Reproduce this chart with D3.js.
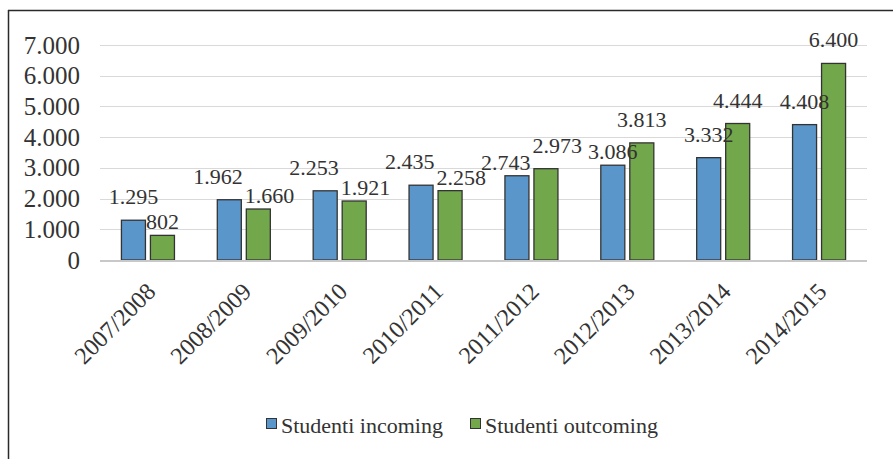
<!DOCTYPE html>
<html>
<head>
<meta charset="utf-8">
<script src="https://cdn.jsdelivr.net/npm/d3@7"></script>
</head>
<body style="margin:0;padding:0;background:#fff">
<svg id="chart" width="893" height="459" style="display:block"></svg>
<script>
const categories = ["2007/2008", "2008/2009", "2009/2010", "2010/2011", "2011/2012", "2012/2013", "2013/2014", "2014/2015"];
const seriesNames = ["Studenti incoming", "Studenti outcoming"];
const incoming = [1295, 1962, 2253, 2435, 2743, 3086, 3332, 4408];
const outcoming = [802, 1660, 1921, 2258, 2973, 3813, 4444, 6400];
const yTicks = [0, 1000, 2000, 3000, 4000, 5000, 6000, 7000];
const colors = ["#5b96cb", "#72a84b"];

const FONT = "Liberation Serif";
const TXT = "#333333";

const seriesValues = [incoming, outcoming];
const data = categories.map((c, i) => ({
  cat: c,
  values: seriesNames.map((s, j) => ({ series: s, idx: j, value: seriesValues[j][i] }))
}));

const svg = d3.select("#chart");
const W = 893, H = 459;
const plot = { left: 100, right: 867, top: 45, bottom: 260 };

const locale = d3.formatLocale({ decimal: ",", thousands: ".", grouping: [3], currency: ["€", ""] });
const fmt = locale.format(",d");

function serif(sel, size) {
  return sel.attr("font-family", FONT).style("font-family", '"Liberation Serif", "Times New Roman", serif')
    .attr("font-size", size).attr("fill", TXT);
}

// Frame
svg.append("line").attr("x1", 8).attr("x2", W).attr("y1", 10.5).attr("y2", 10.5)
  .attr("stroke", "#2a2a2a").attr("stroke-width", 1.5);
svg.append("line").attr("x1", 8.5).attr("x2", 8.5).attr("y1", 10).attr("y2", H)
  .attr("stroke", "#2a2a2a").attr("stroke-width", 1.5);

const y = d3.scaleLinear().domain([0, 7000]).range([plot.bottom, plot.top]);
const x0 = d3.scaleBand().domain(categories).range([plot.left, plot.right])
  .paddingInner(0.447).paddingOuter(0.2235);
const x1 = d3.scaleBand().domain(seriesNames).range([0, x0.bandwidth()]).paddingInner(0.172);

// Gridlines
svg.append("g").selectAll("line").data(yTicks.filter(t => t > 0)).join("line")
  .attr("x1", plot.left).attr("x2", plot.right)
  .attr("y1", d => Math.round(y(d)) + 0.5).attr("y2", d => Math.round(y(d)) + 0.5)
  .attr("stroke", "#d9d9d9").attr("stroke-width", 1);

// Y axis labels
const yAxis = d3.axisLeft(y).tickValues(yTicks).tickFormat(d => fmt(d)).tickSize(0).tickPadding(0);
const yg = svg.append("g").attr("transform", `translate(80,0)`).call(yAxis);
serif(yg, 25);
yg.select(".domain").remove();
serif(yg.selectAll("text"), 25).attr("dy", "0.32em");

// Bars
const groups = svg.append("g").selectAll("g").data(data).join("g")
  .attr("transform", d => `translate(${x0(d.cat)},0)`);
groups.selectAll("rect").data(d => d.values).join("rect")
  .attr("x", d => x1(d.series))
  .attr("y", d => y(d.value))
  .attr("width", x1.bandwidth())
  .attr("height", d => y(0) - y(d.value))
  .attr("fill", d => colors[d.idx])
  .attr("stroke", "#333").attr("stroke-width", 1.3);

// Baseline
svg.append("line").attr("x1", plot.left).attr("x2", plot.right)
  .attr("y1", plot.bottom + 1).attr("y2", plot.bottom + 1)
  .attr("stroke", "#c8c8c8").attr("stroke-width", 2);

// Data labels (above bar, nudged apart when they collide)
groups.each(function(d) {
  const g = d3.select(this);
  const labels = serif(g.selectAll("text.lbl").data(d.values).join("text"), 22)
    .attr("class", "lbl")
    .attr("x", v => x1(v.series) + x1.bandwidth() / 2)
    .attr("y", v => y(v.value) - 16)
    .attr("text-anchor", "middle")
    .text(v => fmt(v.value));
  const nodes = labels.nodes();
  const overlap = (a, b) => {
    const A = a.getBBox(), B = b.getBBox();
    const ox = Math.min(A.x + A.width, B.x + B.width) - Math.max(A.x, B.x);
    const oy = Math.min(A.y + A.height, B.y + B.height) - Math.max(A.y, B.y);
    return ox > 0 && oy > 0 ? ox : 0;
  };
  if (overlap(nodes[0], nodes[1]) > 0) {
    const lowIdx = d.values[0].value < d.values[1].value ? 0 : 1;
    d3.select(nodes[lowIdx]).attr("y", y(d.values[lowIdx].value) - 6);
    const ox = overlap(nodes[0], nodes[1]);
    if (ox > 0) {
      const s = ox / 2 + 1;
      d3.select(nodes[0]).attr("x", +d3.select(nodes[0]).attr("x") - s);
      d3.select(nodes[1]).attr("x", +d3.select(nodes[1]).attr("x") + s);
    }
  }
});

// X axis labels
const xAxis = d3.axisBottom(x0).tickSize(0).tickPadding(0);
const xg = svg.append("g").attr("transform", `translate(0,${plot.bottom})`).call(xAxis);
serif(xg, 24);
xg.select(".domain").remove();
serif(xg.selectAll(".tick text"), 24)
  .attr("text-anchor", "end")
  .attr("x", 0).attr("y", 0).attr("dy", 0)
  .attr("transform", "translate(9,33) rotate(-45)");

// Legend
const legendItems = [
  { name: seriesNames[0], color: colors[0], x: 266 },
  { name: seriesNames[1], color: colors[1], x: 470 }
];
const lg = svg.append("g").selectAll("g").data(legendItems).join("g")
  .attr("transform", d => `translate(${d.x},418)`);
lg.append("rect").attr("x", 0.5).attr("y", 0.5).attr("width", 10).attr("height", 10)
  .attr("fill", d => d.color).attr("stroke", "#333").attr("stroke-width", 1);
serif(lg.append("text"), 22).attr("x", 15).attr("y", 15).text(d => d.name);
</script>
</body>
</html>
